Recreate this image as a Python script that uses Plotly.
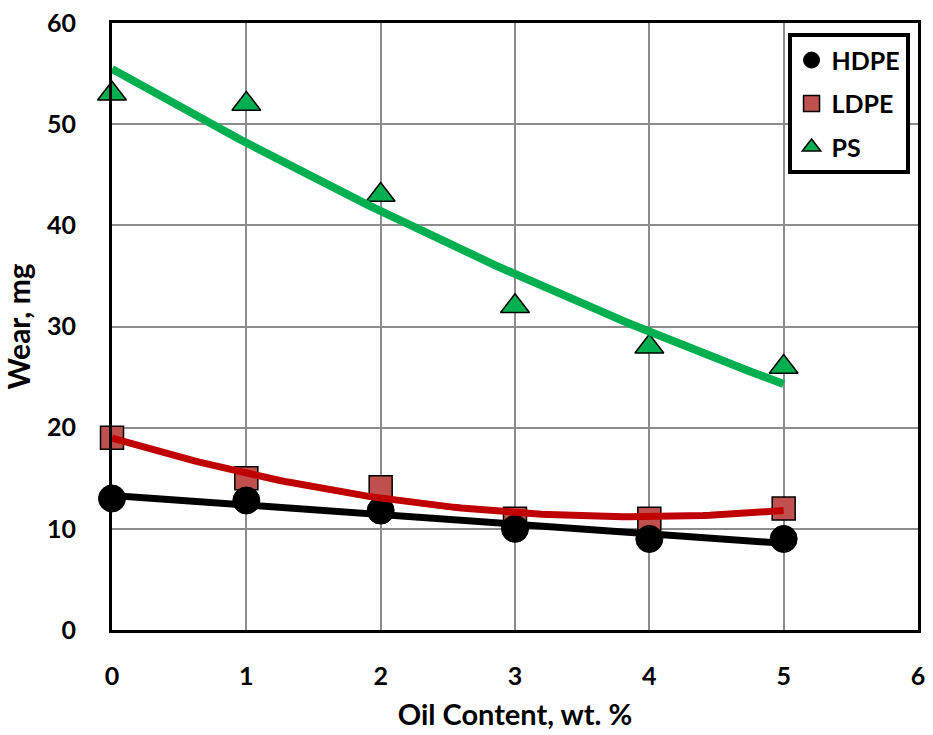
import numpy as np
import plotly.graph_objects as go

oil_content = [0, 1, 2, 3, 4, 5]
hdpe_wear = [13.0, 12.8, 11.8, 10.0, 9.0, 9.0]
ldpe_wear = [19.0, 15.0, 14.1, 11.0, 11.0, 12.0]
ps_wear = [53.0, 52.0, 43.0, 32.0, 28.0, 26.0]

x_ticks = [0, 1, 2, 3, 4, 5, 6]
y_ticks = [0, 10, 20, 30, 40, 50, 60]

FONT = "Lato"

def b(s):
    return "<b>" + str(s) + "</b>"

fig = go.Figure()

# markers (LDPE below HDPE as in reference)
fig.add_trace(go.Scatter(x=oil_content, y=ldpe_wear, mode="markers", name=b("LDPE"),
                         legendgroup="b", legendrank=2,
                         marker=dict(symbol="square", size=23, color="#C0504D",
                                     line=dict(color="black", width=1.5)),
                         cliponaxis=False))
fig.add_trace(go.Scatter(x=oil_content, y=hdpe_wear, mode="markers", name=b("HDPE"),
                         legendgroup="a", legendrank=1,
                         marker=dict(symbol="circle", size=27, color="black",
                                     line=dict(color="black", width=1)),
                         cliponaxis=False))
fig.add_trace(go.Scatter(x=oil_content, y=ps_wear, mode="markers", name=b("PS"),
                         legendgroup="c", legendrank=3,
                         marker=dict(symbol="triangle-up", size=25, color="#00B050",
                                     line=dict(color="black", width=1.5)),
                         cliponaxis=False))

# trend lines (least squares fits of the data)
xs = np.linspace(0, 5, 101)
fits = [
    (hdpe_wear, 1, "black", 7),
    (ldpe_wear, 2, "#C00000", 7),
    (ps_wear, 2, "#00B050", 8),
]
for ys, deg, col, w in fits:
    p = np.polyfit(oil_content, ys, deg)
    fig.add_trace(go.Scatter(x=xs, y=np.polyval(p, xs), mode="lines", showlegend=False,
                             line=dict(color=col, width=w), hoverinfo="skip",
                             cliponaxis=False))

fig.update_layout(
    width=933, height=735,
    margin=dict(l=112, r=15, t=23, b=105),
    paper_bgcolor="white", plot_bgcolor="white",
    font=dict(family=FONT, size=25, color="black"),
    showlegend=True,
    legend=dict(x=0.9895, y=0.983, xanchor="right", yanchor="top",
                bgcolor="white", bordercolor="black", borderwidth=4,
                font=dict(family=FONT, size=25, color="black"),
                tracegroupgap=8, itemsizing="trace", itemwidth=30),
    xaxis=dict(range=[0, 6], tickvals=x_ticks, ticktext=[b(v) for v in x_ticks],
               showgrid=True, gridcolor="#8c8c8c", gridwidth=1.5, zeroline=False,
               showline=True, linecolor="black", linewidth=3, mirror=True,
               ticks="", ticklabelstandoff=22, automargin=False,
               tickfont=dict(family=FONT, size=25),
               title=dict(text=b("Oil Content, wt. %"), standoff=16,
                          font=dict(family=FONT, size=29))),
    yaxis=dict(range=[0, 60], tickvals=y_ticks, ticktext=[b(v) for v in y_ticks],
               showgrid=True, gridcolor="#8c8c8c", gridwidth=1.5, zeroline=False,
               showline=True, linecolor="black", linewidth=3, mirror=True,
               ticks="", ticklabelstandoff=28, automargin=False,
               tickfont=dict(family=FONT, size=25),
               title=dict(text=b("Wear, mg"), standoff=9,
                          font=dict(family=FONT, size=30))),
)

fig.write_html("out.html", config={"displayModeBar": False},
               post_script="document.body.style.margin='0';document.body.style.overflow='hidden';")
